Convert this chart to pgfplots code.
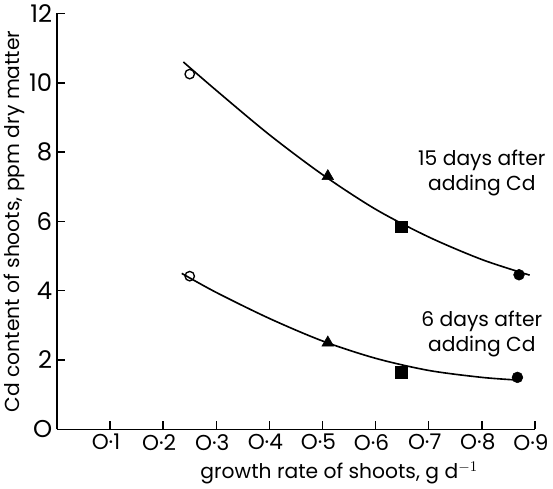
\documentclass[border=0pt]{standalone}
\usepackage{fontspec}
\setmainfont{Poppins}
\usepackage{pgfplots}
\pgfplotsset{compat=1.18}

\begin{document}
\begin{tikzpicture}
\begin{axis}[
  scale only axis,
  width=354pt, height=308pt,
  xmin=0, xmax=0.9, ymin=0, ymax=12,
  axis x line*=bottom, axis y line*=left,
  axis line style={line width=1.2pt,-},
  tick align=inside,
  major tick length=6pt,
  tick style={line width=1.1pt,black},
  xtick={0.1,0.2,0.3,0.4,0.5,0.6,0.7,0.8,0.9},
  xticklabels={O·1,O·2,O·3,O·4,O·5,O·6,O·7,O·8,O·9},
  ytick={0,2,4,6,8,10,12},
  yticklabels={O,2,4,6,8,10,12},
  xticklabel style={font=\fontsize{16}{18}\selectfont, xshift=-3pt},
  yticklabel style={font=\fontsize{18}{20}\selectfont},
  xlabel={growth rate of shoots, g d$^{-1}$},
  ylabel={Cd content of shoots, ppm dry matter},
  label style={font=\fontsize{15}{17}\selectfont},
  xlabel style={xshift=32pt, yshift=-2pt},
  ylabel style={yshift=-4pt},
  clip=false,
]
% fitted curve, 15 days
\addplot[black, line width=1.2pt, smooth]
  coordinates{(0.238,10.6)(0.3,9.78)(0.4,8.5)(0.5,7.35)(0.6,6.35)(0.7,5.55)(0.8,4.9)(0.89,4.45)};
% fitted curve, 6 days
\addplot[black, line width=1.2pt, smooth]
  coordinates{(0.235,4.5)(0.3,3.95)(0.4,3.2)(0.5,2.55)(0.6,2.05)(0.7,1.7)(0.8,1.5)(0.87,1.42)};

% measured points
\addplot[only marks, mark=o, mark size=3.5pt, mark options={line width=1pt}]
  coordinates{(0.25,10.25)(0.25,4.42)};
\addplot[only marks, mark=triangle*, mark size=5pt]
  coordinates{(0.51,7.3)(0.51,2.5)};
\addplot[only marks, mark=square*, mark size=4.3pt]
  coordinates{(0.648,5.85)(0.648,1.65)};
\addplot[only marks, mark=*, mark size=4pt]
  coordinates{(0.87,4.46)(0.867,1.5)};

\node[align=center, font=\fontsize{15}{18}\selectfont] at (axis cs:0.80,7.4)
  {15 days after\\adding Cd};
\node[align=center, font=\fontsize{15}{18}\selectfont] at (axis cs:0.80,2.75)
  {6 days after\\adding Cd};
\end{axis}
\end{tikzpicture}
\end{document}
